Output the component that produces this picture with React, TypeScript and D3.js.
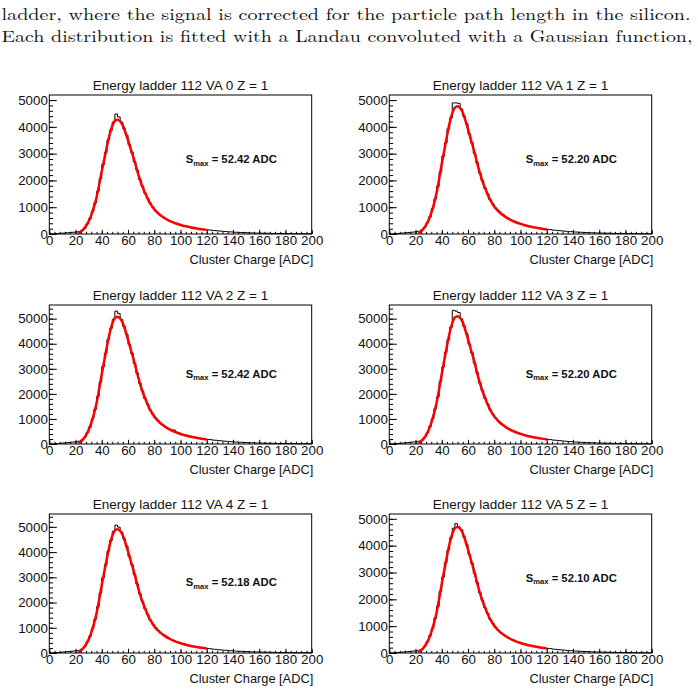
import React, { useEffect, useRef } from 'react';
import * as d3 from 'd3';

// Running text above the figure
const introLines = [
  'ladder, where the signal is corrected for the particle path length in the silicon.',
  'Each distribution is fitted with a Landau convoluted with a Gaussian function,',
];

const panelTitles = [
  'Energy ladder 112 VA 0 Z = 1',
  'Energy ladder 112 VA 1 Z = 1',
  'Energy ladder 112 VA 2 Z = 1',
  'Energy ladder 112 VA 3 Z = 1',
  'Energy ladder 112 VA 4 Z = 1',
  'Energy ladder 112 VA 5 Z = 1',
];
const smaxValues = ['52.42', '52.20', '52.42', '52.20', '52.18', '52.10'];
const yMaxima = [5190, 5190, 5545, 5545, 5510, 5180];
const xTicks = [0, 20, 40, 60, 80, 100, 120, 140, 160, 180, 200];

// Cluster charge spectra, 2 ADC bins from 0 to 200
const binWidth = 2;
const histVA0 = [
  0, 0, 9, 17, 27, 33, 44, 50, 61, 67,
  78, 92, 139, 219, 381, 570, 851, 1166, 1592, 2068,
  2597, 3040, 3518, 3871, 4181, 4480, 4372, 4180, 3931, 3690,
  3340, 3048, 2695, 2384, 2038, 1781, 1528, 1333, 1138, 998,
  868, 776, 686, 629, 559, 517, 466, 431, 389, 366,
  330, 310, 279, 263, 236, 224, 203, 194, 177, 168,
  152, 147, 130, 125, 113, 108, 96, 91, 80, 78,
  66, 65, 59, 57, 50, 48, 42, 39, 35, 34,
  31, 30, 27, 26, 22, 21, 20, 18, 18, 16,
  14, 14, 12, 12, 10, 10, 9, 8, 8, 7,
];
const histVA1 = [
  0, 0, 10, 18, 30, 37, 49, 56, 68, 75,
  87, 103, 155, 245, 424, 639, 951, 1304, 1776, 2311,
  2901, 3398, 3930, 4330, 4895, 4895, 4880, 4668, 4395, 4115,
  3731, 3398, 3016, 2660, 2278, 1992, 1706, 1488, 1270, 1113,
  970, 866, 766, 701, 624, 577, 519, 482, 433, 409,
  367, 346, 311, 294, 263, 251, 226, 217, 197, 188,
  169, 164, 146, 140, 127, 120, 108, 101, 89, 87,
  75, 73, 66, 63, 56, 53, 47, 44, 40, 38,
  35, 34, 30, 29, 25, 24, 22, 21, 19, 18,
  17, 15, 14, 13, 12, 11, 10, 10, 9, 8,
];
const histVA2 = [
  0, 0, 10, 19, 31, 40, 52, 60, 72, 80,
  92, 110, 165, 261, 452, 680, 1014, 1389, 1893, 2463,
  3087, 3619, 4180, 4610, 4970, 5300, 5210, 4968, 4683, 4381,
  3972, 3620, 3210, 2831, 2426, 2117, 1818, 1584, 1352, 1186,
  1034, 921, 817, 748, 666, 615, 553, 560, 463, 436,
  391, 369, 332, 313, 281, 267, 241, 231, 210, 200,
  181, 175, 155, 149, 135, 129, 115, 109, 96, 92,
  80, 77, 70, 67, 60, 57, 50, 47, 42, 41,
  38, 35, 33, 30, 27, 26, 23, 22, 20, 19,
  18, 16, 15, 14, 13, 12, 11, 10, 10, 9,
];
const histVA3 = [
  0, 0, 11, 20, 30, 42, 50, 62, 70, 83,
  91, 114, 160, 268, 445, 694, 1002, 1411, 1876, 2495,
  3071, 3661, 4165, 4658, 5330, 5300, 5245, 4990, 4700, 4398,
  3987, 3633, 3224, 2843, 2437, 2128, 1826, 1590, 1360, 1190,
  1040, 924, 821, 750, 669, 616, 557, 514, 466, 437,
  395, 370, 334, 314, 284, 267, 243, 232, 212, 201,
  182, 175, 156, 150, 136, 129, 116, 108, 96, 93,
  81, 78, 70, 67, 60, 57, 50, 47, 42, 41,
  37, 36, 32, 31, 27, 26, 23, 22, 20, 19,
  17, 17, 14, 14, 12, 12, 10, 10, 9, 9,
];
const histVA4 = [
  0, 0, 10, 21, 28, 40, 48, 60, 68, 80,
  90, 106, 159, 252, 436, 658, 979, 1341, 1828, 2380,
  2985, 3498, 4040, 4455, 4820, 5068, 4990, 4800, 4530, 4236,
  3840, 3500, 3105, 2738, 2345, 2050, 1757, 1533, 1306, 1147,
  1000, 890, 790, 722, 644, 594, 535, 495, 448, 421,
  380, 357, 321, 303, 272, 258, 233, 223, 204, 193,
  175, 169, 150, 144, 131, 125, 111, 105, 92, 89,
  78, 75, 68, 65, 58, 55, 48, 45, 41, 40,
  36, 35, 31, 30, 26, 25, 22, 22, 19, 19,
  17, 16, 14, 14, 12, 12, 10, 10, 9, 9,
];
const histVA5 = [
  0, 0, 9, 20, 27, 39, 46, 57, 65, 76,
  84, 104, 148, 246, 410, 640, 925, 1300, 1731, 2296,
  2832, 3372, 3840, 4290, 4650, 4820, 4700, 4596, 4330, 4055,
  3675, 3349, 2972, 2618, 2245, 1960, 1683, 1464, 1253, 1096,
  958, 851, 757, 690, 616, 568, 514, 473, 429, 403,
  364, 341, 308, 289, 261, 246, 224, 214, 195, 185,
  167, 162, 144, 138, 125, 119, 107, 100, 88, 86,
  74, 72, 65, 62, 55, 53, 46, 43, 39, 38,
  34, 33, 30, 28, 25, 24, 21, 21, 18, 18,
  16, 16, 13, 13, 11, 11, 10, 9, 9, 8,
];
const histSeries = [histVA0, histVA1, histVA2, histVA3, histVA4, histVA5];

// Landau (x) Gauss fit curves, sampled over the 22-120 ADC fit range
const fitX = [
  22, 24, 26, 28, 30, 32, 34, 36, 38, 40,
  42, 44, 46, 48, 50, 52, 54, 56, 58, 60,
  62, 64, 66, 68, 70, 72, 74, 76, 78, 80,
  84, 88, 92, 96, 100, 104, 108, 112, 116, 120,
];
const fitVA0 = [
  34, 85, 171, 299, 470, 705, 1003, 1366, 1836, 2349,
  2818, 3288, 3715, 4035, 4227, 4270, 4206, 4057, 3800, 3501,
  3181, 2882, 2541, 2199, 1900, 1644, 1430, 1217, 1059, 922,
  726, 589, 483, 401, 337, 286, 243, 209, 179, 154,
];
const fitVA1 = [
  38, 95, 191, 334, 525, 787, 1121, 1526, 2051, 2624,
  3148, 3673, 4150, 4508, 4722, 4770, 4698, 4532, 4245, 3911,
  3554, 3220, 2838, 2457, 2123, 1836, 1598, 1359, 1183, 1030,
  811, 658, 539, 448, 377, 320, 272, 234, 200, 172,
];
const fitVA2 = [
  41, 102, 203, 356, 559, 838, 1194, 1626, 2184, 2794,
  3353, 3912, 4420, 4801, 5029, 5080, 5004, 4826, 4521, 4166,
  3785, 3429, 3023, 2616, 2261, 1956, 1702, 1448, 1260, 1097,
  864, 701, 574, 478, 401, 340, 290, 249, 213, 183,
];
const fitVA3 = [
  41, 102, 204, 357, 561, 842, 1199, 1632, 2193, 2805,
  3366, 3927, 4437, 4820, 5049, 5100, 5024, 4845, 4539, 4182,
  3800, 3443, 3035, 2627, 2270, 1964, 1709, 1454, 1265, 1102,
  867, 704, 576, 479, 403, 342, 291, 250, 214, 184,
];
const fitVA4 = [
  39, 98, 196, 344, 540, 810, 1154, 1571, 2111, 2701,
  3241, 3781, 4272, 4640, 4861, 4910, 4836, 4665, 4370, 4026,
  3658, 3314, 2921, 2529, 2185, 1890, 1645, 1399, 1218, 1061,
  835, 678, 555, 462, 388, 329, 280, 241, 206, 177,
];
const fitVA5 = [
  38, 94, 188, 329, 517, 776, 1105, 1504, 2021, 2585,
  3102, 3619, 4089, 4442, 4653, 4700, 4630, 4465, 4183, 3854,
  3502, 3173, 2797, 2421, 2092, 1810, 1575, 1340, 1166, 1015,
  799, 649, 531, 442, 371, 315, 268, 230, 197, 169,
];
const fitSeries = [fitVA0, fitVA1, fitVA2, fitVA3, fitVA4, fitVA5];

const W = 698;
const H = 692;
const colLeft = [49.3, 389.3];
const rowTop = [95, 305, 514];
const frameW = 262.4;
const frameH = 139;
const sans = '"Liberation Sans", Arial, Helvetica, sans-serif';

const App = () => {
  const svgRef = useRef<SVGSVGElement>(null);

  useEffect(() => {
    const svg = d3.select(svgRef.current);
    svg.selectAll('*').remove();

    svg.append('rect').attr('width', W).attr('height', H).attr('fill', '#fff');

    svg.selectAll('.intro')
      .data(introLines)
      .enter().append('text')
      .attr('class', 'intro')
      .attr('x', 1.5)
      .attr('y', (d, i) => 19.5 + i * 22.5)
      .attr('textLength', (d, i) => (i === 0 ? 689 : 691))
      .attr('lengthAdjust', 'spacingAndGlyphs')
      .style('font-family', '"Latin Modern Roman", "Liberation Serif", "DejaVu Serif", serif')
      .style('font-size', '16.5px')
      .attr('fill', '#111')
      .text(d => d);

    panelTitles.forEach((title, i) => {
      const col = i % 2;
      const row = Math.floor(i / 2);
      const yMax = yMaxima[i];

      const g = svg.append('g')
        .attr('transform', `translate(${colLeft[col]},${rowTop[row]})`);

      const x = d3.scaleLinear().domain([0, 200]).range([0, frameW]);
      const y = d3.scaleLinear().domain([0, yMax]).range([frameH, 0]);

      // histogram as a step line
      const hist = histSeries[i];
      const pts: [number, number][] = hist.map((v, k) => [k * binWidth, v]);
      pts.push([hist.length * binWidth, hist[hist.length - 1]]);
      const step = d3.line<[number, number]>()
        .x(d => x(d[0]))
        .y(d => y(d[1]))
        .curve(d3.curveStepAfter);
      g.append('path')
        .datum(pts)
        .attr('d', step)
        .attr('fill', 'none')
        .attr('stroke', '#000')
        .attr('stroke-width', 1);

      // fit function
      const fit = fitSeries[i];
      const fitLine = d3.line<number>()
        .x((d, k) => x(fitX[k]))
        .y(d => y(d))
        .curve(d3.curveMonotoneX);
      g.append('path')
        .datum(fit)
        .attr('d', fitLine)
        .attr('fill', 'none')
        .attr('stroke', '#ff0000')
        .attr('stroke-width', 2.5)
        .attr('stroke-linejoin', 'round');

      // frame
      g.append('rect')
        .attr('x', 0).attr('y', 0)
        .attr('width', frameW).attr('height', frameH)
        .attr('fill', 'none')
        .attr('stroke', '#000')
        .attr('stroke-width', 1);

      // y axis: major ticks every 1000, minor every 200, pointing inwards
      const yMinor = g.append('g')
        .call(d3.axisLeft(y).tickValues(d3.range(0, yMax, 200)).tickSize(-3.8).tickFormat(() => ''));
      yMinor.select('.domain').remove();
      const yMajor = g.append('g')
        .call(d3.axisLeft(y)
          .tickValues(d3.range(0, yMax, 1000))
          .tickSize(-7.5)
          .tickPadding(1.5)
          .tickFormat(d3.format('d')));
      yMajor.select('.domain').remove();
      yMajor.selectAll('text')
        .style('font-family', sans)
        .style('font-size', '13.3px')
        .attr('fill', '#111');

      // x axis: major every 20, minor every 4
      const xMinor = g.append('g')
        .attr('transform', `translate(0,${frameH})`)
        .call(d3.axisBottom(x).tickValues(d3.range(0, 201, 4)).tickSize(-2.2).tickFormat(() => ''));
      xMinor.select('.domain').remove();
      const xMajor = g.append('g')
        .attr('transform', `translate(0,${frameH})`)
        .call(d3.axisBottom(x)
          .tickValues(xTicks)
          .tickSize(-4.2)
          .tickPadding(2)
          .tickFormat(d3.format('d')));
      xMajor.select('.domain').remove();
      xMajor.selectAll('text')
        .style('font-family', sans)
        .style('font-size', '13.3px')
        .attr('fill', '#111');

      g.selectAll('.tick line').attr('stroke', '#000').attr('stroke-width', 1);

      // title and axis label
      g.append('text')
        .attr('x', frameW / 2)
        .attr('y', -5)
        .attr('text-anchor', 'middle')
        .style('font-family', sans)
        .style('font-size', '13.5px')
        .attr('fill', '#111')
        .text(title);

      g.append('text')
        .attr('x', frameW + 1.5)
        .attr('y', frameH + 29.5)
        .attr('text-anchor', 'end')
        .style('font-family', sans)
        .style('font-size', '12.8px')
        .attr('fill', '#111')
        .text('Cluster Charge [ADC]');

      // most probable value annotation
      const label = g.append('text')
        .attr('x', x(104))
        .attr('y', y(2650))
        .style('font-family', sans)
        .style('font-weight', 'bold')
        .style('font-size', '11.3px')
        .attr('fill', '#111');
      label.append('tspan').text('S');
      label.append('tspan')
        .attr('dy', 2.5)
        .style('font-size', '7.6px')
        .text('max');
      label.append('tspan')
        .attr('dy', -2.5)
        .text(` = ${smaxValues[i]} ADC`);
    });
  }, []);

  return (
    <svg
      ref={svgRef}
      width={W}
      height={H}
      style={{ position: 'absolute', left: 0, top: 0 }}
    />
  );
};

export default App;
